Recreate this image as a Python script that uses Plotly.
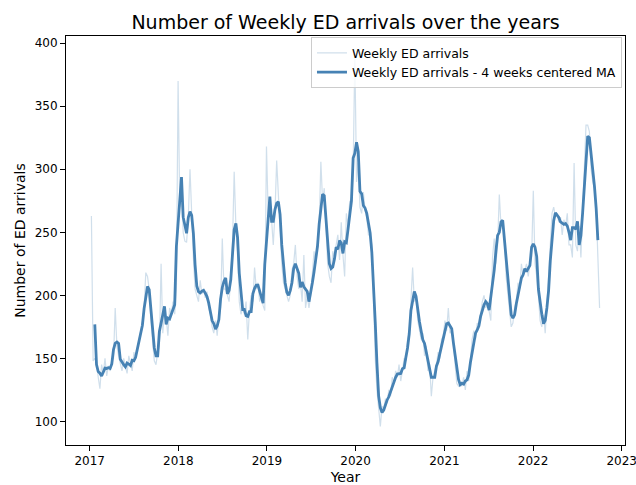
import pandas as pd
import plotly.graph_objects as go

# Weekly emergency-department arrivals, one list per calendar year
# (weeks ending on Sunday, first week ending 2017-01-08)
arrivals_2017 = [263, 148, 150, 147, 135, 126, 145, 138, 150, 136, 144, 140, 148,
                 150, 190, 160, 152, 145, 140, 150, 145, 138, 152, 147, 140, 155,
                 150, 158, 165, 172, 178, 190, 218, 215, 205, 180, 160, 148, 145,
                 155, 160, 225, 170, 188, 182, 168, 190, 185, 195, 185, 205, 370]
arrivals_2018 = [270, 285, 250, 243, 242, 262, 300, 262, 230, 205, 200, 195, 212,
                 201, 205, 198, 203, 190, 185, 175, 170, 180, 168, 185, 190, 245,
                 205, 205, 200, 195, 215, 240, 298, 255, 235, 195, 185, 190, 185,
                 195, 165, 188, 200, 195, 222, 205, 210, 195, 200, 192, 188, 318]
arrivals_2019 = [265, 270, 260, 240, 265, 307, 280, 245, 225, 210, 205, 200, 195,
                 200, 220, 225, 240, 215, 205, 210, 195, 232, 190, 200, 190, 200,
                 215, 235, 225, 240, 255, 306, 275, 285, 250, 225, 215, 210, 235,
                 230, 240, 248, 228, 258, 232, 215, 265, 255, 275, 270, 300, 391]
arrivals_2020 = [290, 305, 270, 265, 282, 268, 262, 248, 248, 240, 200, 150, 125,
                 110, 96, 112, 110, 118, 115, 125, 120, 135, 130, 140, 135, 145,
                 132, 140, 150, 148, 165, 170, 195, 222, 195, 200, 180, 172, 165,
                 170, 152, 160, 140, 145, 120, 135, 140, 145, 155, 150, 165, 168]
arrivals_2021 = [180, 172, 190, 170, 172, 162, 145, 130, 128, 130, 128, 135, 125,
                 140, 132, 150, 165, 172, 165, 178, 175, 185, 195, 200, 190, 195,
                 188, 180, 230, 245, 225, 240, 280, 255, 258, 245, 215, 200, 185,
                 175, 178, 190, 195, 210, 205, 225, 215, 220, 225, 215, 225, 230]
arrivals_2022 = [283, 225, 215, 200, 180, 175, 185, 170, 190, 215, 240, 265, 270,
                 262, 265, 258, 262, 248, 260, 255, 265, 240, 240, 230, 305, 240,
                 235, 255, 230, 270, 305, 335, 335, 330, 300, 290, 285, 270, 230,
                 190]

year_ticks = [2017, 2018, 2019, 2020, 2021, 2022, 2023]

weekly = (arrivals_2017 + arrivals_2018 + arrivals_2019 + arrivals_2020
          + arrivals_2021 + arrivals_2022)
weeks = pd.date_range("2017-01-08", periods=len(weekly), freq="W-SUN")
series = pd.Series(weekly, index=weeks, dtype=float)
moving_avg = series.rolling(4, center=True).mean()

# 5% padding around the data on both axes
span = weeks[-1] - weeks[0]
x_range = [(weeks[0] - span * 0.05).isoformat(), (weeks[-1] + span * 0.05).isoformat()]
lo, hi = min(weekly), max(weekly)
pad = 0.05 * (hi - lo)
y_range = [lo - pad, hi + pad]

color = "#4682b4"
font = "DejaVu Sans"

fig = go.Figure()
fig.add_trace(go.Scatter(
    x=weeks, y=series.values, mode="lines", name="Weekly ED arrivals",
    line=dict(color=color, width=1.2), opacity=0.25,
))
fig.add_trace(go.Scatter(
    x=weeks, y=moving_avg.values, mode="lines",
    name="Weekly ED arrivals - 4 weeks centered MA",
    line=dict(color=color, width=2.8),
))

axis_common = dict(
    showline=True, linecolor="black", linewidth=1, mirror=True,
    ticks="outside", ticklen=5, tickwidth=1, tickcolor="black",
    showgrid=False, zeroline=False, automargin=False,
    ticklabeloverflow="allow",
    tickfont=dict(family=font, size=12, color="black"),
)

fig.update_layout(
    width=636, height=485,
    margin=dict(l=66, r=11, t=36, b=40),
    paper_bgcolor="white", plot_bgcolor="white",
    font=dict(family=font, color="black"),
    title=dict(
        text="Number of Weekly ED arrivals over the years",
        font=dict(family=font, size=19, color="black"),
        x=0.5, xref="paper", xanchor="center",
        y=1 - 22 / 485, yref="container", yanchor="middle",
    ),
    xaxis=dict(
        type="date", range=x_range,
        tickvals=[pd.Timestamp(f"{y}-01-01") for y in year_ticks],
        ticktext=[str(y) for y in year_ticks],
        title=dict(text="Year", font=dict(family=font, size=14), standoff=6),
        **axis_common,
    ),
    yaxis=dict(
        range=y_range, tick0=0, dtick=50,
        title=dict(text="Number of ED arrivals", font=dict(family=font, size=14), standoff=5),
        **axis_common,
    ),
    legend=dict(
        x=0.9946, y=0.997, xanchor="right", yanchor="top",
        bgcolor="rgba(255,255,255,0.8)", bordercolor="#cccccc", borderwidth=1,
        font=dict(family=font, size=12.5, color="black"),
        itemwidth=30,
    ),
    showlegend=True,
)

fig.write_html("out.html")
